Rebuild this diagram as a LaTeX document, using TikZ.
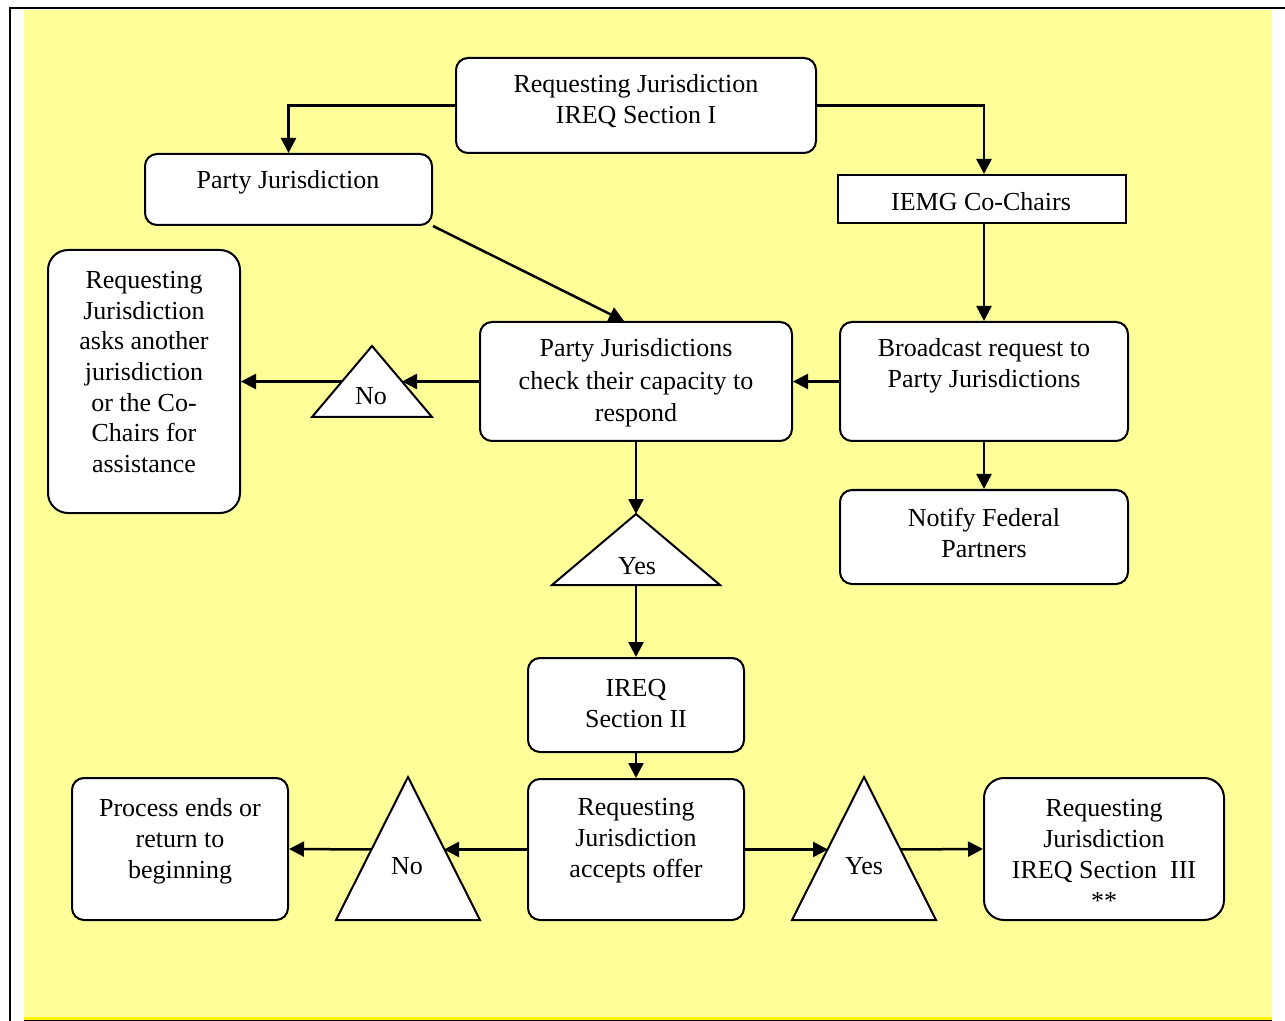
\documentclass[tikz,border=0pt]{standalone}
\usepackage{fontspec}
\setmainfont{Liberation Serif}
\usetikzlibrary{arrows.meta,calc}
\definecolor{bgyellow}{RGB}{255,255,153}
\begin{document}
\begin{tikzpicture}[x=0.5pt,y=-0.5pt,
  box/.style={draw=black, line width=1pt, fill=white, rounded corners=6pt, inner sep=0pt},
  txt/.style={align=center, inner sep=0pt, font=\fontsize{13}{15.5}\selectfont},
  conn/.style={line width=1.25pt, -{Triangle[length=7.5pt,width=7.5pt]}},
  tri/.style={draw=black, line width=1pt, fill=white, line join=miter}]
\useasboundingbox (0,0) rectangle (1285,1021);
% frame
\fill[bgyellow] (24,10) rectangle (1272,1018);
\fill[yellow] (24,1017) rectangle (1272,1019.5);
\draw[line width=1pt] (9.5,1021) -- (9.5,8.5) -- (1285,8.5);
\draw[line width=1pt] (24,1020.5) -- (1272,1020.5);

% boxes
\node[box, minimum width=180pt, minimum height=47.5pt] (top) at (636,105.5) {};
\node[txt] (toptxt) at (636,101) {Requesting Jurisdiction\\IREQ Section I};

\node[box, minimum width=143.5pt, minimum height=35.5pt] (party) at (288.5,189.5) {};
\node[txt] (partytxt) at (288,182) {Party Jurisdiction};

\node[box, sharp corners, minimum width=144pt, minimum height=24pt] (iemg) at (982,199) {};
\node[txt] (iemgtxt) at (981,202) {IEMG Co-Chairs};

\node[box, rounded corners=10pt, minimum width=96pt, minimum height=131.5pt] (ask) at (144,381.5) {};
\node[txt, font=\fontsize{13}{15.33}\selectfont] (asktxt) at (144,372) {Requesting\\Jurisdiction\\asks another\\jurisdiction\\or the Co-\\Chairs for\\assistance};

\node[box, minimum width=156pt, minimum height=59.5pt] (check) at (636,381.5) {};
\node[txt, font=\fontsize{13}{16.25}\selectfont] (checktxt) at (636,383) {Party Jurisdictions\\check their capacity to\\respond};

\node[box, minimum width=144pt, minimum height=59.5pt] (broad) at (984,381.5) {};
\node[txt] (broadtxt) at (984,366) {Broadcast request to\\Party Jurisdictions};

\node[box, minimum width=144pt, minimum height=47pt] (notify) at (984,537) {};
\node[txt] (notifytxt) at (984,533) {Notify Federal\\Partners};

\node[box, minimum width=108pt, minimum height=47pt] (ireq2) at (636,705) {};
\node[txt] (ireq2txt) at (636,704) {IREQ\\Section II};

\node[box, minimum width=108pt, minimum height=70.5pt] (accept) at (636,849.5) {};
\node[txt] (accepttxt) at (636,841) {Requesting\\Jurisdiction\\accepts offer};

\node[box, minimum width=108pt, minimum height=71pt] (process) at (180,849) {};
\node[txt] (processtxt) at (180,841) {Process ends or\\return to\\beginning};

\node[box, rounded corners=10pt, minimum width=120pt, minimum height=71pt] (sec3) at (1104,849) {};
\node[txt] (sec3txt) at (1104,854) {Requesting\\Jurisdiction\\IREQ Section\ \ III\\**};

% triangles
\coordinate (no1a) at (372,346); \coordinate (no1bl) at (312,417); \coordinate (no1br) at (432,417);
\draw[tri] (no1a) -- (no1br) -- (no1bl) -- cycle;
\node[txt] (no1) at (371,396) {No};
\coordinate (no1r) at ($(no1a)!0.5!(no1br)$);
\coordinate (no1l) at ($(no1a)!0.5!(no1bl)$);

\coordinate (yes1a) at (636,514); \coordinate (yes1bl) at (552,585); \coordinate (yes1br) at (720,585);
\draw[tri] (yes1a) -- (yes1br) -- (yes1bl) -- cycle;
\node[txt] (yes1) at (637,566) {Yes};
\coordinate (yes1b) at ($(yes1bl)!0.5!(yes1br)$);

\coordinate (no2a) at (408,777); \coordinate (no2bl) at (336,920); \coordinate (no2br) at (480,920);
\draw[tri] (no2a) -- (no2br) -- (no2bl) -- cycle;
\node[txt] (no2) at (407,866) {No};
\coordinate (no2r) at ($(no2a)!0.5!(no2br)$);
\coordinate (no2l) at ($(no2a)!0.5!(no2bl)$);

\coordinate (yes2a) at (864,777); \coordinate (yes2bl) at (792,920); \coordinate (yes2br) at (936,920);
\draw[tri] (yes2a) -- (yes2br) -- (yes2bl) -- cycle;
\node[txt] (yes2) at (864,866) {Yes};
\coordinate (yes2r) at ($(yes2a)!0.5!(yes2br)$);
\coordinate (yes2l) at ($(yes2a)!0.5!(yes2bl)$);

% connectors
\draw[conn] (top.west) -| (party.north);
\draw[conn] (top.east) -| (iemg.north -| broad.north);
\draw[conn] (party.south east) -- ($(check.north)+(-12,0)$);
\draw[conn] (iemg.south -| broad.north) -- (broad.north);
\draw[conn] (broad.west) -- (check.east);
\draw[conn] (check.west) -- (no1r);
\draw[conn] (no1l) -- (ask.east);
\draw[conn] (broad.south) -- (notify.north);
\draw[conn] (check.south) -- (yes1a);
\draw[conn] (yes1b) -- (ireq2.north);
\draw[conn] (ireq2.south) -- (accept.north);
\draw[conn] (accept.west) -- (no2r |- accept.west);
\draw[conn] (no2l |- accept.west) -- (process.east);
\draw[conn] (accept.east) -- (yes2l |- accept.east);
\draw[conn] (yes2r |- accept.east) -- (sec3.west);
\end{tikzpicture}
\end{document}
